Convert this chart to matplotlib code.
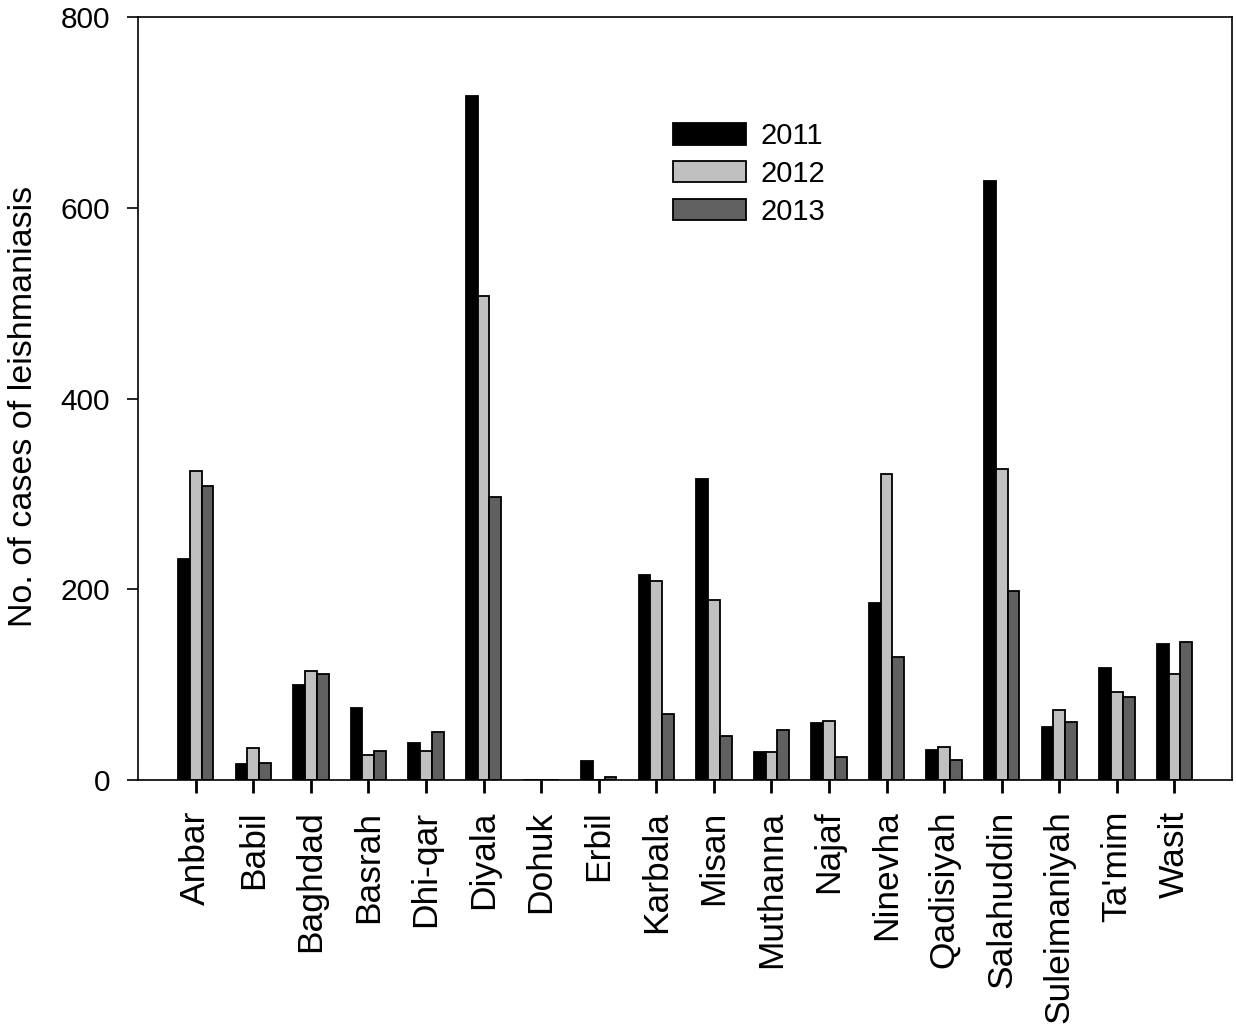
import numpy as np
import matplotlib
matplotlib.use("Agg")
import matplotlib.pyplot as plt

plt.rcParams['font.family'] = ['Liberation Sans', 'DejaVu Sans']

provinces = ["Anbar", "Babil", "Baghdad", "Basrah", "Dhi-qar", "Diyala", "Dohuk",
             "Erbil", "Karbala", "Misan", "Muthanna", "Najaf", "Ninevha",
             "Qadisiyah", "Salahuddin", "Suleimaniyah", "Ta'mim", "Wasit"]
years = ["2011", "2012", "2013"]
cases_2011 = [232, 17, 100, 76, 39, 717, 0, 20, 215, 316, 29, 60, 186, 31, 628, 56, 117, 143]
cases_2012 = [324, 34, 114, 26, 30, 507, 0, 0, 209, 189, 29, 62, 321, 35, 326, 73, 92, 111]
cases_2013 = [308, 18, 111, 30, 50, 297, 0, 3, 69, 46, 52, 24, 129, 21, 198, 61, 87, 145]
colors = ["#000000", "#c0c0c0", "#606060"]

fig = plt.figure(figsize=(12.36, 10.30), dpi=100)
ax = fig.add_axes([0.1117, 0.2427, 0.8851, 0.7408])

x = np.arange(len(provinces))
w = 0.205
for i, (vals, c, lab) in enumerate(zip([cases_2011, cases_2012, cases_2013], colors, years)):
    ax.bar(x + (i - 1) * w, vals, width=w, color=c, edgecolor="black",
           linewidth=1.3, label=lab)

ax.set_xlim(-1, len(provinces))
ax.set_ylim(0, 800)
ax.set_yticks([0, 200, 400, 600, 800])
ax.set_xticks(x)
ax.set_xticklabels(provinces, rotation=90, fontsize=25.5)
ax.tick_params(axis='y', labelsize=21.5, direction='out', length=8, width=1.2, pad=12)
ax.tick_params(axis='x', direction='out', length=9, width=2, pad=13)
for s in ax.spines.values():
    s.set_linewidth(1.2)

ax.set_ylabel("No. of cases of leishmaniasis", fontsize=24.5)
ax.yaxis.set_label_coords(-0.0905, 0.49)

ax.legend(loc='upper left', bbox_to_anchor=(0.489, 0.862), frameon=False,
          fontsize=21, borderaxespad=0, borderpad=0, handlelength=2.5,
          handleheight=0.75, handletextpad=0.5, labelspacing=0.33)

fig.savefig("out.png", dpi=100)
